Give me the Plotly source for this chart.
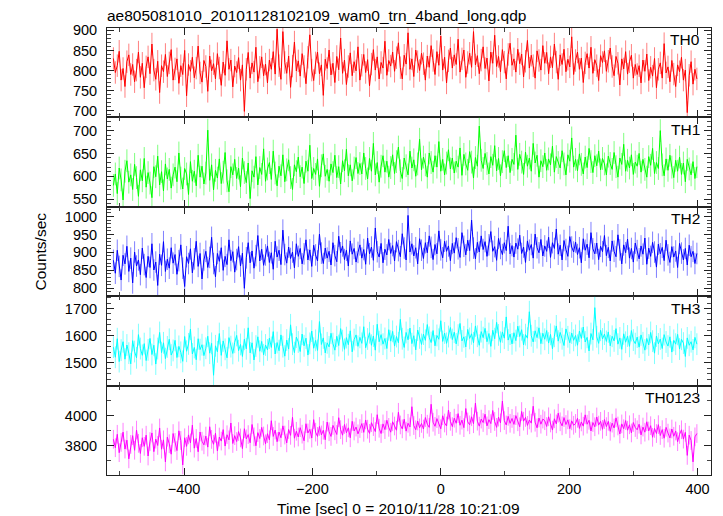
import plotly.graph_objects as go
from plotly.subplots import make_subplots

TITLE = "ae805081010_20101128102109_wam0_trn_4band_long.qdp"
X_TITLE = "Time [sec] 0 = 2010/11/28 10:21:09"
Y_TITLE = "Counts/sec"

# time bins (sec), 3 s spacing from -510 to 399
time_sec = list(range(-510, 401, 3))

th0 = [
    830, 795, 812, 848, 776, 805, 760, 822, 839, 790, 815, 772, 801, 846, 783, 818,
    757, 809, 834, 792, 866, 801, 778, 823, 745, 812, 797, 840, 785, 819, 852, 776,
    804, 829, 768, 812, 790, 850, 737, 815, 798, 833, 782, 806, 861, 794, 771, 825,
    810, 748, 836, 799, 817, 779, 842, 806, 763, 821, 788, 874, 803, 826, 759, 811,
    795, 832, 776, 814, 698, 803, 845, 781, 819, 796, 858, 772, 808, 834, 787, 816,
    769, 826, 803, 847, 791, 903, 812, 778, 897, 820, 793, 836, 758, 811, 871, 799,
    824, 786, 842, 810, 767, 833, 889, 801, 775, 819, 846, 792, 814, 738, 828, 805,
    851, 789, 818, 770, 835, 802, 881, 793, 826, 765, 810, 844, 787, 822, 799, 859,
    776, 813, 840, 795, 827, 762, 816, 852, 801, 834, 779, 820, 806, 873, 788, 825,
    811, 846, 798, 832, 869, 807, 779, 838, 816, 894, 803, 829, 785, 851, 822, 800,
    843, 817, 776, 836, 808, 862, 825, 790, 847, 813, 886, 801, 833, 769, 824, 856,
    806, 839, 815, 878, 796, 829, 851, 783, 820, 843, 808, 897, 814, 837, 792, 826,
    859, 805, 831, 774, 846, 818, 888, 810, 835, 797, 852, 821, 779, 840, 868, 813,
    829, 796, 853, 817, 841, 784, 823, 875, 806, 838, 812, 781, 849, 825, 801, 862,
    818, 845, 792, 834, 807, 866, 821, 778, 839, 815, 853, 797, 828, 809, 884, 790,
    825, 846, 803, 831, 770, 819, 842, 806, 858, 793, 827, 812, 775, 837, 820, 849,
    798, 823, 856, 810, 787, 835, 818, 764, 829, 804, 847, 791, 822, 838, 781, 815,
    790, 812, 769, 826, 798, 841, 775, 808, 786, 830, 757, 803, 819, 781, 867, 794,
    809, 772, 825, 791, 760, 814, 797, 833, 776, 801, 695, 788, 822, 766, 803, 779,
]
th1 = [
    580, 605, 562, 618, 592, 548, 611, 634, 587, 603, 571, 626, 597, 556, 614, 590,
    639, 576, 608, 585, 553, 621, 599, 644, 581, 610, 568, 627, 594, 615, 574, 603,
    620, 588, 651, 596, 572, 617, 605, 560, 632, 589, 611, 579, 646, 598, 622, 583,
    607, 701, 591, 625, 570, 613, 596, 638, 584, 609, 652, 590, 566, 621, 603, 637,
    595, 618, 577, 640, 608, 586, 629, 551, 612, 598, 643, 581, 619, 604, 660, 589,
    616, 630, 593, 655, 607, 579, 622, 601, 647, 588, 614, 636, 597, 571, 625, 610,
    642, 599, 620, 584, 633, 611, 668, 595, 617, 604, 638, 578, 623, 649, 600, 615,
    589, 627, 608, 646, 597, 621, 583, 634, 612, 659, 601, 625, 590, 618, 641, 606,
    628, 605, 651, 617, 594, 639, 611, 672, 603, 630, 587, 622, 645, 609, 633, 598,
    619, 647, 606, 632, 664, 612, 595, 640, 623, 603, 655, 618, 636, 600, 627, 681,
    614, 642, 625, 598, 651, 630, 609, 645, 620, 676, 611, 637, 603, 629, 658, 616,
    640, 607, 633, 620, 662, 602, 648, 627, 613, 654, 631, 596, 641, 622, 710, 635,
    617, 650, 628, 605, 643, 624, 667, 612, 639, 601, 632, 656, 619, 645, 608, 637,
    626, 690, 615, 648, 631, 604, 653, 622, 640, 611, 672, 629, 646, 598, 634, 621,
    651, 613, 638, 625, 666, 609, 643, 630, 618, 656, 627, 603, 647, 633, 684, 620,
    637, 612, 649, 626, 605, 642, 619, 661, 632, 608, 645, 623, 655, 614, 639, 627,
    603, 644, 628, 615, 652, 621, 598, 640, 626, 670, 611, 635, 618, 647, 604, 631,
    622, 650, 609, 637, 615, 598, 643, 624, 661, 606, 630, 617, 700, 625, 601, 638,
    613, 646, 620, 597, 635, 611, 642, 604, 629, 588, 637, 616, 603, 632, 595, 621,
]
th2 = [
    878, 842, 906, 861, 823, 892, 868, 917, 847, 884, 815, 901, 862, 879, 838, 912,
    866, 830, 889, 858, 924, 851, 873, 808, 895, 864, 930, 847, 881, 856, 913, 870,
    894, 839, 877, 921, 856, 805, 888, 869, 910, 843, 882, 931, 861, 897, 826, 879,
    903, 858, 886, 942, 869, 832, 897, 875, 913, 850, 889, 866, 935, 877, 902, 845,
    880, 916, 862, 898, 800, 885, 927, 871, 904, 856, 891, 947, 876, 909, 864, 893,
    918, 872, 899, 853, 931, 887, 906, 866, 962, 894, 870, 915, 883, 901, 857, 924,
    889, 911, 868, 896, 935, 879, 907, 861, 920, 893, 876, 951, 898, 869, 912, 884,
    903, 865, 927, 891, 874, 945, 899, 918, 880, 906, 862, 932, 895, 911, 873, 900,
    921, 884, 908, 867, 940, 896, 915, 878, 968, 902, 887, 925, 871, 909, 893, 936,
    897, 919, 876, 930, 905, 888, 952, 912, 879, 1003, 901, 924, 890, 913, 868, 938,
    906, 883, 927, 899, 946, 914, 880, 922, 896, 960, 907, 885, 931, 903, 918, 877,
    925, 898, 941, 910, 886, 955, 917, 893, 934, 905, 990, 912, 882, 928, 901, 946,
    908, 930, 889, 921, 958, 903, 916, 878, 939, 911, 894, 927, 905, 973, 896, 919,
    887, 926, 909, 948, 897, 915, 872, 932, 906, 922, 884, 951, 913, 899, 936, 890,
    918, 903, 942, 886, 927, 911, 965, 895, 920, 879, 933, 908, 889, 944, 915, 901,
    929, 894, 913, 871, 938, 906, 923, 885, 955, 910, 896, 926, 880, 917, 902, 947,
    891, 914, 876, 932, 903, 888, 949, 907, 868, 921, 899, 937, 884, 911, 873, 926,
    905, 882, 918, 895, 940, 867, 912, 889, 928, 901, 859, 923, 896, 914, 877, 934,
    893, 872, 916, 887, 904, 858, 925, 898, 879, 911, 865, 920, 888, 903, 869, 897,
]
th3 = [
    1558, 1521, 1589, 1505, 1547, 1578, 1514, 1566, 1536, 1497, 1582, 1542, 1519, 1604, 1553, 1528,
    1571, 1509, 1548, 1590, 1531, 1565, 1496, 1553, 1612, 1538, 1574, 1516, 1559, 1587, 1529, 1546,
    1583, 1520, 1561, 1539, 1506, 1597, 1543, 1570, 1624, 1533, 1557, 1512, 1589, 1549, 1567, 1527,
    1554, 1598, 1536, 1572, 1455, 1563, 1541, 1608, 1528, 1581, 1550, 1519, 1593, 1560, 1535, 1576,
    1601, 1545, 1568, 1524, 1587, 1552, 1629, 1537, 1574, 1511, 1562, 1596, 1543, 1579, 1530, 1566,
    1548, 1591, 1557, 1615, 1533, 1575, 1545, 1603, 1560, 1525, 1584, 1551, 1640, 1569, 1538, 1595,
    1577, 1542, 1606, 1563, 1591, 1529, 1572, 1617, 1554, 1583, 1546, 1652, 1568, 1592, 1537, 1574,
    1559, 1609, 1571, 1547, 1598, 1564, 1626, 1582, 1550, 1593, 1567, 1618, 1541, 1586, 1603, 1561,
    1594, 1572, 1633, 1556, 1588, 1611, 1565, 1599, 1547, 1642, 1578, 1604, 1569, 1590, 1553, 1622,
    1580, 1616, 1562, 1597, 1574, 1660, 1589, 1557, 1612, 1585, 1628, 1571, 1600, 1548, 1621, 1592,
    1568, 1606, 1583, 1641, 1594, 1575, 1619, 1563, 1601, 1587, 1655, 1579, 1610, 1572, 1597, 1630,
    1586, 1613, 1570, 1602, 1645, 1581, 1596, 1559, 1623, 1590, 1607, 1574, 1636, 1598, 1565, 1615,
    1593, 1627, 1578, 1608, 1561, 1620, 1589, 1649, 1603, 1576, 1614, 1591, 1669, 1584, 1606, 1570,
    1611, 1582, 1635, 1597, 1622, 1566, 1604, 1591, 1688, 1600, 1577, 1618, 1593, 1629, 1571, 1609,
    1587, 1619, 1573, 1605, 1552, 1598, 1636, 1580, 1612, 1589, 1564, 1625, 1596, 1574, 1610, 1583,
    1601, 1565, 1617, 1590, 1632, 1577, 1594, 1544, 1608, 1585, 1703, 1596, 1572, 1620, 1588, 1606,
    1579, 1614, 1563, 1598, 1581, 1626, 1569, 1592, 1550, 1607, 1576, 1599, 1561, 1619, 1584, 1571,
    1595, 1558, 1603, 1574, 1547, 1590, 1566, 1612, 1580, 1536, 1599, 1570, 1588, 1553, 1604, 1577,
    1562, 1596, 1540, 1583, 1569, 1605, 1551, 1587, 1573, 1524, 1592, 1565, 1578, 1548, 1594, 1569,
]
th0123 = [
    3842, 3786, 3875, 3753, 3821, 3889, 3777, 3836, 3712, 3808, 3866, 3769, 3903, 3815, 3748, 3852,
    3795, 3869, 3731, 3827, 3884, 3760, 3843, 3801, 3917, 3776, 3838, 3692, 3856, 3812, 3743, 3880,
    3821, 3767, 3898, 3834, 3672, 3852, 3795, 3871, 3818, 3936, 3783, 3847, 3759, 3890, 3829, 3805,
    3863, 3790, 3925, 3841, 3809, 3882, 3765, 3857, 3830, 3906, 3797, 3872, 3838, 3950, 3814, 3866,
    3827, 3893, 3851, 3780, 3912, 3845, 3873, 3819, 3940, 3858, 3799, 3886, 3847, 3921, 3864, 3812,
    3879, 3838, 3965, 3861, 3903, 3826, 3890, 3852, 3931, 3870, 3818, 3907, 3868, 3988, 3849, 3895,
    3857, 3919, 3876, 3832, 3945, 3884, 3908, 3850, 3972, 3889, 3861, 3927, 3871, 3902, 3839, 3956,
    3892, 3861, 3934, 3898, 3874, 3985, 3906, 3869, 3940, 3885, 3918, 3852, 3961, 3897, 3923, 3878,
    3913, 3946, 3888, 3970, 3909, 3881, 3952, 3926, 3893, 4005, 3915, 3880, 3944, 3906, 3968, 3921,
    3889, 3958, 3930, 3902, 4021, 3937, 3911, 3975, 3896, 3948, 3924, 4058, 3933, 3905, 3963, 3918,
    3947, 3910, 3986, 3942, 3921, 4074, 3955, 3928, 3979, 3939, 3912, 3998, 3950, 3930, 4036, 3961,
    3926, 3982, 3948, 4012, 3935, 3969, 3919, 4046, 3957, 3938, 3991, 3945, 4082, 3962, 3929, 3976,
    3953, 4008, 3931, 3972, 3946, 4033, 3960, 3921, 3989, 3951, 4095, 3966, 3937, 3994, 3948, 3980,
    3941, 3999, 3958, 3925, 4026, 3962, 3987, 3934, 3970, 3949, 4061, 3955, 3918, 3983, 3942, 3976,
    3965, 3927, 3991, 3950, 3903, 3978, 3944, 4015, 3958, 3931, 3986, 3940, 3971, 3912, 3964, 3935,
    3947, 3981, 3914, 3957, 3929, 4004, 3942, 3968, 3897, 3953, 3925, 3990, 3936, 3961, 3908, 3973,
    3926, 3961, 3895, 3949, 3917, 3984, 3930, 3877, 3944, 3912, 3966, 3902, 3938, 3884, 3953, 3920,
    3905, 3942, 3871, 3923, 3889, 3958, 3897, 3932, 3855, 3914, 3880, 3939, 3867, 3906, 3849, 3921,
    3883, 3851, 3910, 3862, 3897, 3826, 3874, 3905, 3843, 3888, 3735, 3869, 3834, 3692, 3858, 3880,
]

band_names = ["TH0", "TH1", "TH2", "TH3", "TH0123"]
band_values = [th0, th1, th2, th3, th0123]
band_errors = [28, 25, 30, 40, 62]
band_colors = ["#ff0000", "#00ff00", "#0000ff", "#00ffff", "#ff00ff"]
band_err_colors = ["rgba(255,0,0,0.5)", "rgba(0,255,0,0.5)", "rgba(0,0,255,0.5)",
                   "rgba(0,255,255,0.5)", "rgba(255,0,255,0.5)"]
y_ranges = [[683, 906], [533, 729], [778, 1027], [1417, 1745], [3605, 4198]]
y_major = [50, 50, 50, 100, 200]
y_minor = [10, 10, 10, 20, 100]

FONT = "Liberation Sans, Arial, sans-serif"

fig = make_subplots(rows=5, cols=1, shared_xaxes=True, vertical_spacing=0)

for i, (name, vals, err, col, ecol) in enumerate(
        zip(band_names, band_values, band_errors, band_colors, band_err_colors)):
    fig.add_trace(go.Scatter(
        x=time_sec, y=vals, mode="lines",
        line=dict(color=col, width=1),
        error_y=dict(type="constant", value=err, color=ecol, thickness=1, width=0),
        showlegend=False, name=name,
    ), row=i + 1, col=1)

    fig.update_yaxes(
        row=i + 1, col=1,
        range=y_ranges[i], dtick=y_major[i], tick0=0,
        showline=True, linecolor="#222", linewidth=1, mirror="ticks",
        ticks="inside", ticklen=7, tickcolor="#222", tickwidth=1,
        minor=dict(dtick=y_minor[i], tick0=0, ticks="inside", ticklen=4,
                   tickcolor="#444", tickwidth=1),
        showgrid=False, zeroline=False, ticklabelstandoff=6,
        tickfont=dict(family=FONT, size=14.5, color="black"),
    )
    fig.update_xaxes(
        row=i + 1, col=1,
        range=[-520, 421], dtick=200, tick0=0,
        showline=True, linecolor="#222", linewidth=1, mirror="ticks",
        ticks="inside", ticklen=7, tickcolor="#222", tickwidth=1,
        minor=dict(dtick=100, tick0=0, ticks="inside", ticklen=4,
                   tickcolor="#444", tickwidth=1),
        showgrid=False, zeroline=False, ticklabelstandoff=1,
        tickfont=dict(family=FONT, size=14.5, color="black"),
    )
    axn = "" if i == 0 else str(i + 1)
    fig.add_annotation(
        text=name, xref="x" + axn + " domain", yref="y" + axn + " domain",
        x=0.985, y=0.985, xanchor="right", yanchor="top", showarrow=False,
        font=dict(family=FONT, size=15.5, color="black"),
    )

fig.add_annotation(text=TITLE, xref="paper", yref="paper", x=0.0, y=1.0,
                   yshift=2, xshift=-2, xanchor="left", yanchor="bottom", showarrow=False,
                   font=dict(family=FONT, size=15.5, color="black"))
fig.add_annotation(text=X_TITLE, xref="paper", yref="paper", x=0.5, y=0.0,
                   yshift=-23, xshift=-11, xanchor="center", yanchor="top", showarrow=False,
                   font=dict(family=FONT, size=15.5, color="black"))
fig.add_annotation(text=Y_TITLE, xref="paper", yref="paper", x=0.0, y=0.5,
                   xshift=-67, xanchor="center", yanchor="middle", textangle=-90,
                   showarrow=False, font=dict(family=FONT, size=15.5, color="black"))

fig.update_layout(
    width=723, height=516,
    margin=dict(l=107, r=12, t=28, b=41),
    paper_bgcolor="white", plot_bgcolor="white",
    showlegend=False,
)

fig.write_html("out.html", config={"displayModeBar": False},
               post_script="document.body.style.margin='0';document.body.style.padding='0';")
